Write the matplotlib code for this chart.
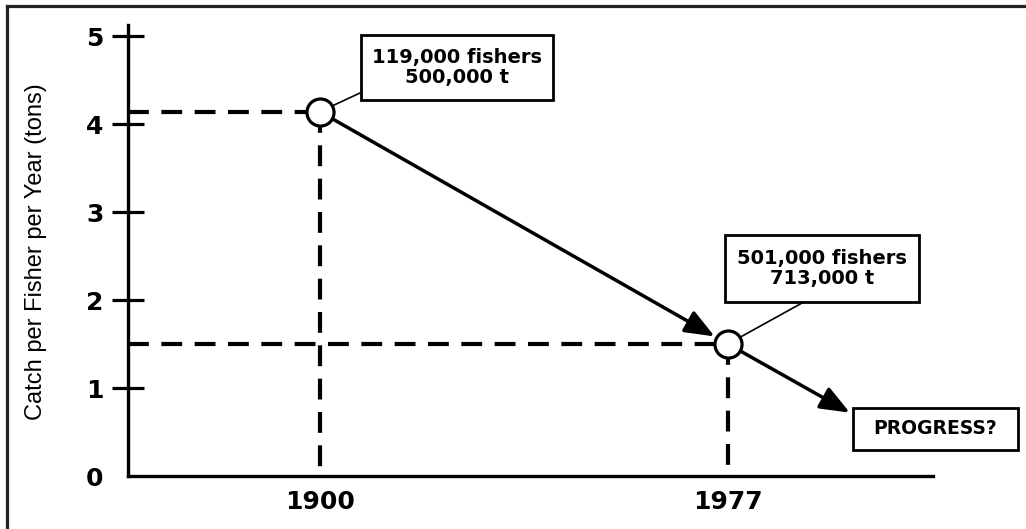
import matplotlib.pyplot as plt
from matplotlib.patches import Rectangle
from matplotlib.lines import Line2D

# data
years = [1900, 1977]
catch = [4.14, 1.5]          # tons per fisher per year
fishers = ["119,000", "501,000"]
tonnage = ["500,000", "713,000"]
progress_year = 2000
progress_catch = 0.72
yticks = [0, 1, 2, 3, 4, 5]

W, H = 1026, 529


def fig_xy(x, y):
    # image pixel (top-left origin) -> figure fraction
    return x / W, 1 - y / H


def box(x0, y0, x1, y1, text, size):
    fx0, fy1 = fig_xy(x0, y1)
    fx1, fy0 = fig_xy(x1, y0)
    fig.add_artist(Rectangle((fx0, fy1), fx1 - fx0, fy0 - fy1, transform=fig.transFigure,
                             facecolor="white", edgecolor="black", lw=2.0, zorder=6))
    fig.text((fx0 + fx1) / 2, (fy0 + fy1) / 2, text, ha="center", va="center",
             fontsize=size, fontweight="bold", family="DejaVu Sans", linespacing=1.05, zorder=7)


fig = plt.figure(figsize=(10.26, 5.29), dpi=100)
ax = fig.add_axes([128 / W, 53 / H, (933 - 128) / W, (476 - 25) / H])
x0, x1 = 1863.8, 2015.7
ax.set_xlim(x0, x1)
ax.set_ylim(0, 5.125)

for s in ["top", "right"]:
    ax.spines[s].set_visible(False)
for s in ["left", "bottom"]:
    ax.spines[s].set_linewidth(2.4)

ax.set_yticks(yticks)
ax.tick_params(axis="y", direction="inout", length=23, width=2.3, pad=6, labelsize=18)
ax.yaxis.get_major_ticks()[0].tick1line.set_visible(False)
ax.set_xticks(years)
ax.set_xticklabels([str(y) for y in years])
ax.tick_params(axis="x", length=0, pad=10, labelsize=18)
for lab in ax.get_xticklabels() + ax.get_yticklabels():
    lab.set_fontweight("bold")
    lab.set_family("DejaVu Sans")

# dashed guide lines
for x, y in zip(years, catch):
    ax.plot([x0, x], [y, y], color="black", lw=3, ls=(0, (5, 3)), dash_capstyle="butt")
    ax.plot([x, x], [y, 0], color="black", lw=3, ls=(0, (5, 3)), dash_capstyle="butt")

head = "-|>,head_length=0.5,head_width=0.2"
ax.annotate("", xy=(years[1], catch[1]), xytext=(years[0], catch[0]),
            arrowprops=dict(arrowstyle=head, mutation_scale=36, lw=2.5, color="black",
                            shrinkA=11, shrinkB=11))
ax.annotate("", xy=(progress_year, progress_catch), xytext=(years[1], catch[1]),
            arrowprops=dict(arrowstyle=head, mutation_scale=36, lw=2.5, color="black",
                            shrinkA=11, shrinkB=0))

ax.plot(years, catch, "o", ms=19.5, mfc="white", mec="black", mew=2.3, zorder=5, clip_on=False)

# leader lines to the label boxes
ends = [(360, 93), (802, 303)]
for x, y, (ex, ey) in zip(years, catch, ends):
    ax.annotate("", xy=(x, y), xytext=(ex, H - ey), textcoords="figure pixels",
                arrowprops=dict(arrowstyle="-", lw=1.2, color="black", shrinkA=0, shrinkB=11))

box(361, 35, 553, 100, f"{fishers[0]} fishers\n{tonnage[0]} t", 14)
box(725, 235, 919, 302, f"{fishers[1]} fishers\n{tonnage[1]} t", 14)
box(853, 408, 1018, 450, "PROGRESS?", 13.5)

fig.text(36 / W, 1 - 252 / H, "Catch per Fisher per Year (tons)", rotation=90,
         ha="center", va="center", fontsize=17, family="Liberation Sans")

# frame lines (top and left only)
fig.add_artist(Line2D([7 / W, 1], [1 - 6 / H, 1 - 6 / H], transform=fig.transFigure, lw=2.3, color="#222222"))
fig.add_artist(Line2D([7 / W, 7 / W], [0, 1 - 6 / H], transform=fig.transFigure, lw=2.3, color="#222222"))

fig.savefig("out.png", dpi=100)
